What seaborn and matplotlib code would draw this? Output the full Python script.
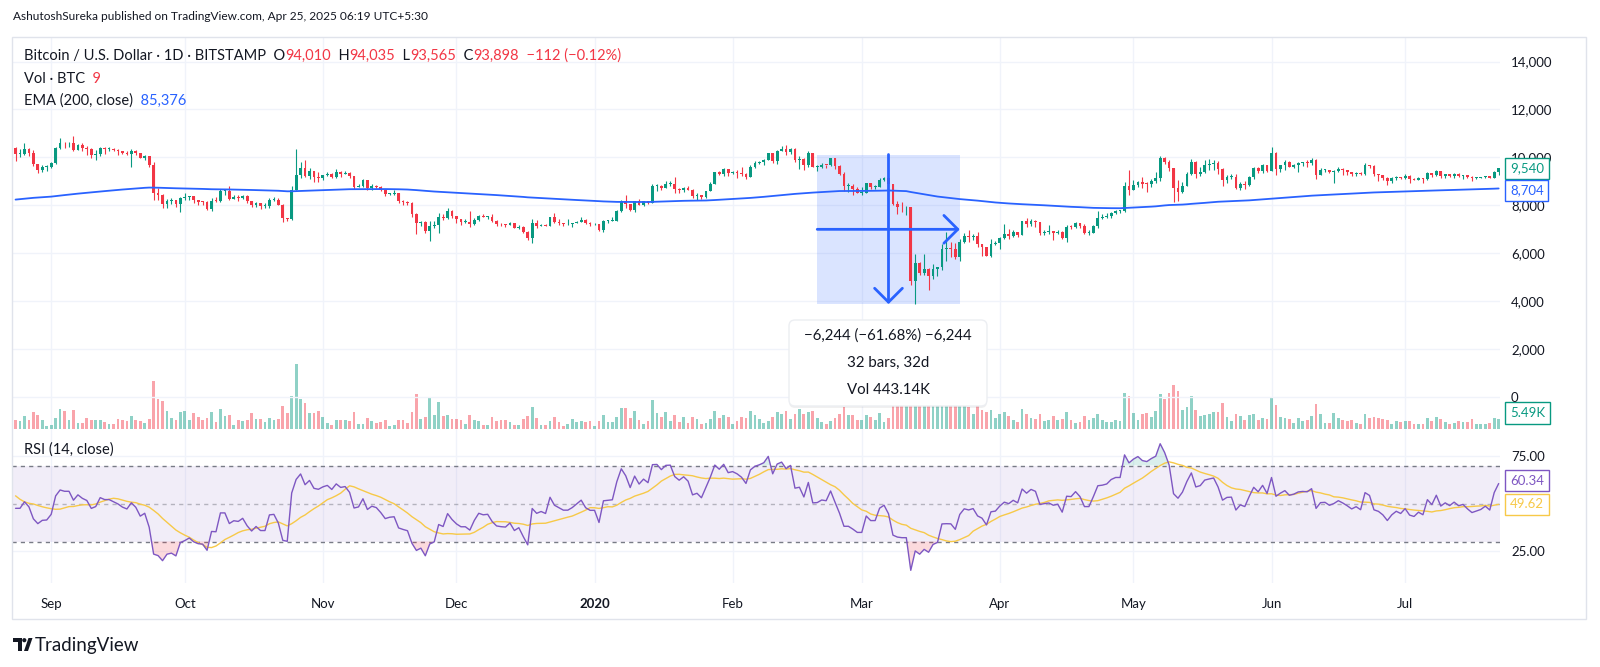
import numpy as np
import pandas as pd
import matplotlib
matplotlib.use("Agg")
import matplotlib.pyplot as plt
import matplotlib.dates as mdates
from matplotlib.patches import Rectangle, FancyBboxPatch, Ellipse, Polygon
from matplotlib.transforms import IdentityTransform
import seaborn as sns

# BTC/USD daily candles, Bitstamp, 24 Aug 2019 -> 22 Jul 2020
start_date = "2019-08-24"
first_open = 10410

close = [
    10140, 10140, 10370, 10190, 9710, 9490, 9590, 9600,
    9760, 10380, 10620, 10580, 10580, 10320, 10500, 10400, 10340, 10110, 10160, 10410, 10360, 10360, 10310,
    10260, 10190, 10150, 10270, 10180, 9990, 10040, 9700, 8530, 8430, 8060, 8190, 8210, 8040, 8300,
    8340, 8390, 8230, 8150, 8130, 7860, 8200, 8190, 8590, 8590, 8270, 8330, 8310, 8370, 8160, 8000,
    8080, 7960, 7960, 8230, 8240, 8030, 7470, 7430, 8660, 9260, 9550, 9220, 9430, 9180, 9150,
    9250, 9310, 9200, 9410, 9320, 9350, 9210, 8780, 8810, 9040, 8730, 8820, 8780, 8640, 8460,
    8490, 8500, 8170, 8120, 8080, 7620, 7280, 7320, 6910, 7130, 7170, 7530, 7460, 7760, 7570,
    7420, 7320, 7320, 7210, 7400, 7550, 7510, 7520, 7340, 7220, 7200, 7190, 7250, 7070, 7110, 6880,
    6620, 7280, 7150, 7190, 7140, 7510, 7320, 7260, 7200, 7200, 7250, 7320, 7390, 7250, 7200,
    7200, 6960, 7340, 7350, 7360, 7760, 8160, 8040, 7820, 8180, 8020, 8180, 8110, 8810, 8820, 8720,
    8900, 8910, 8700, 8630, 8740, 8660, 8390, 8430, 8340, 8600, 8910, 9380, 9300, 9510, 9350,
    9390, 9350, 9290, 9180, 9620, 9760, 9820, 9900, 10170, 9870, 10270, 10360, 10240, 10370, 9900,
    9930, 9700, 10180, 9600, 9610, 9690, 9670, 9970, 9660, 9310, 8790, 8790, 8670, 8530,
    8530, 8920, 8760, 8760, 9070, 9150, 8900, 8040, 7940, 7910, 7910, 4860, 5580, 5170, 5360, 5030,
    5330, 5410, 6190, 6200, 6190, 5830, 6470, 6740, 6680, 6740, 6370, 6250, 5880, 6400, 6430,
    6640, 6800, 6740, 6870, 6780, 7340, 7200, 7360, 7300, 6860, 6890, 6910, 6840, 6870, 6630,
    7110, 7100, 7260, 7130, 6850, 6850, 7130, 7490, 7510, 7550, 7700, 7770, 7770, 8790, 8620,
    8830, 8980, 8900, 8880, 9030, 9150, 9990, 9810, 9540, 8720, 8560, 8810, 9310, 9790, 9310, 9380,
    9670, 9730, 9780, 9510, 9060, 9170, 9180, 8720, 8900, 8840, 9200, 9570, 9430, 9700, 9450,
    10200, 9520, 9670, 9790, 9620, 9670, 9760, 9780, 9770, 9880, 9280, 9470, 9480, 9390, 9440,
    9520, 9460, 9390, 9310, 9360, 9290, 9690, 9630, 9290, 9250, 9160, 9010, 9120, 9190, 9140,
    9230, 9090, 9060, 9130, 9080, 9340, 9250, 9430, 9230, 9290, 9240, 9300, 9240, 9260, 9190,
    9130, 9150, 9170, 9210, 9160, 9390, 9540,
]
high = [
    10450, 10330, 10620, 10380, 10300, 9720, 9690, 9680,
    9810, 10450, 10800, 10650, 10630, 10900, 10540, 10590, 10480, 10380, 10290, 10450, 10440, 10430, 10380,
    10350, 10270, 10250, 10330, 10290, 10170, 10080, 10050, 9790, 8720, 8490, 8260, 8320, 8230, 8330,
    8500, 8400, 8400, 8240, 8200, 8160, 8310, 8330, 8670, 8640, 8800, 8420, 8450, 8420, 8410, 8170,
    8120, 8100, 8100, 8290, 8330, 8310, 8040, 7490, 8800, 10370, 9800, 9900, 9550, 9450, 9400,
    9280, 9380, 9360, 9520, 9450, 9440, 9370, 9220, 8880, 9110, 9060, 8880, 8850, 8800, 8680,
    8520, 8630, 8500, 8210, 8180, 8120, 7700, 7360, 7340, 7350, 7330, 7660, 7640, 7870, 7820,
    7570, 7440, 7420, 7750, 7490, 7580, 7640, 7560, 7640, 7390, 7260, 7230, 7310, 7260, 7190, 7140,
    6940, 7440, 7370, 7220, 7200, 7520, 7690, 7430, 7280, 7430, 7280, 7360, 7520, 7410, 7320,
    7260, 7210, 7400, 7400, 7500, 7800, 8210, 8450, 8050, 8200, 8280, 8200, 8190, 8890, 8900, 8830,
    9010, 9000, 9190, 8730, 8760, 8790, 8670, 8520, 8440, 8610, 8980, 9400, 9420, 9560, 9530,
    9430, 9470, 9600, 9340, 9700, 9860, 9870, 9940, 10180, 10190, 10300, 10470, 10520, 10390, 10390,
    10060, 9960, 10250, 10200, 9680, 9770, 9700, 9990, 9980, 9670, 9380, 8950, 8900, 8780,
    8750, 8950, 8920, 8840, 9160, 9170, 9190, 8900, 8180, 8150, 7970, 7950, 5950, 5650, 5950, 5370,
    5560, 5440, 6400, 6900, 6450, 6420, 6600, 6850, 6970, 6790, 6870, 6300, 6260, 6600, 6520,
    6680, 7200, 7000, 6990, 6880, 7360, 7460, 7420, 7380, 7300, 6950, 7180, 6910, 6990, 6940,
    7190, 7160, 7320, 7270, 7200, 6950, 7160, 7770, 7620, 7700, 7720, 7790, 7800, 8970, 9470,
    9050, 9020, 9190, 8960, 9100, 9400, 10040, 10000, 9910, 9570, 9040, 8980, 9400, 9930, 9830, 9590,
    9880, 9950, 9890, 9830, 9560, 9260, 9320, 9300, 8980, 9010, 9220, 9620, 9600, 9730, 9700,
    10430, 10230, 9690, 9880, 9850, 9730, 9800, 9800, 9880, 9990, 9940, 9560, 9500, 9480, 9480,
    9580, 9550, 9490, 9400, 9390, 9410, 9780, 9700, 9670, 9320, 9280, 9200, 9200, 9230, 9200,
    9300, 9270, 9120, 9190, 9140, 9370, 9360, 9460, 9440, 9310, 9300, 9340, 9340, 9270, 9270,
    9210, 9190, 9200, 9230, 9220, 9430, 9550,
]
low = [
    9870, 10020, 10110, 10060, 9630, 9330, 9380, 9430,
    9570, 9740, 10360, 10410, 10450, 10270, 10310, 10280, 10080, 9970, 9890, 10070, 10160, 10280, 10260,
    10080, 10140, 10120, 9620, 10090, 9960, 9880, 9620, 8210, 8230, 7900, 7880, 8070, 7950, 7710,
    8230, 8230, 8080, 8000, 8020, 7790, 7780, 8120, 8120, 8440, 8230, 8250, 8200, 8260, 8100, 7940,
    7940, 7830, 7880, 7870, 8180, 8010, 7300, 7360, 7400, 8630, 9120, 9190, 9080, 8990, 8970,
    9060, 9230, 9120, 9140, 9190, 9300, 9120, 8700, 8760, 8780, 8650, 8650, 8740, 8590, 8400,
    8450, 8420, 8080, 8030, 8030, 7520, 6800, 7150, 6860, 6520, 7050, 6850, 7400, 7430, 7480,
    7250, 7190, 7260, 7100, 7170, 7330, 7500, 7440, 7310, 7150, 7140, 7080, 7190, 7040, 7020, 6850,
    6560, 6430, 7040, 7120, 7120, 7130, 7270, 7160, 7130, 7160, 7100, 7250, 7290, 7220, 7150,
    7170, 6920, 6870, 7280, 7330, 7350, 7730, 7880, 7770, 7730, 8000, 7970, 8060, 8100, 8600, 8620,
    8710, 8820, 8500, 8530, 8560, 8620, 8300, 8240, 8270, 8300, 8580, 8880, 9250, 9220, 9240,
    9300, 9160, 9230, 9110, 9170, 9540, 9710, 9680, 9880, 9750, 9720, 10250, 10100, 10130, 9820,
    9510, 9470, 9600, 9580, 9420, 9570, 9570, 9650, 9520, 9280, 8600, 8550, 8450, 8520,
    8410, 8500, 8670, 8670, 8760, 9010, 8860, 8020, 7630, 7730, 7590, 4680, 3876, 5080, 5100, 4450,
    4940, 5060, 5280, 5670, 5850, 5780, 5690, 6440, 6480, 6540, 6260, 5870, 5870, 5860, 6330,
    6170, 6590, 6600, 6680, 6680, 6770, 7090, 7150, 7110, 6750, 6780, 6810, 6570, 6790, 6610,
    6480, 7010, 7060, 7050, 6800, 6770, 6830, 7050, 7410, 7450, 7480, 7650, 7670, 7740, 8440,
    8620, 8770, 8720, 8550, 8770, 8930, 9030, 9710, 9450, 8120, 8200, 8530, 8800, 9260, 9130, 9230,
    9350, 9490, 9470, 9300, 8810, 8930, 9080, 8700, 8640, 8700, 8810, 9110, 9330, 9350, 9400,
    9420, 9270, 9380, 9460, 9580, 9540, 9400, 9650, 9580, 9690, 9080, 9250, 9380, 9340, 8920,
    9390, 9260, 9270, 9220, 9220, 9280, 9280, 9570, 9220, 9020, 9050, 8840, 8950, 9050, 9080,
    9090, 8940, 9040, 9050, 8950, 9060, 9200, 9230, 9150, 9120, 9190, 9150, 9200, 9110, 9160,
    9000, 9090, 9120, 9120, 9130, 9150, 9280,
]
volume_k = [
    5.1, 4.2, 7.3, 4.8, 9.2, 7.9, 5.1, 1.8,
    2.4, 6.0, 11.2, 9.7, 4.8, 10.2, 3.3, 3.3, 6.0, 4.8, 4.8, 4.8, 3.8, 2.9, 2.9,
    5.7, 5.1, 4.2, 7.3, 4.8, 4.2, 3.3, 5.7, 26.5, 16.5, 15.6, 9.7, 6.0, 5.1, 9.3,
    9.7, 5.1, 8.8, 6.4, 4.8, 6.0, 9.2, 3.8, 11.2, 7.3, 7.9, 2.4, 4.8, 4.2, 5.1, 8.8,
    5.7, 5.7, 3.8, 6.0, 5.1, 5.5, 12.4, 9.0, 17.9, 35.9, 16.5, 14.3, 8.8, 8.8, 9.7,
    6.6, 3.3, 2.4, 5.1, 5.1, 4.8, 4.2, 9.3, 2.9, 2.9, 6.0, 4.2, 3.3, 3.7, 5.1,
    1.8, 2.4, 5.1, 5.1, 3.3, 9.3, 19.2, 5.7, 6.4, 17.6, 7.7, 14.6, 7.0, 7.7, 5.5,
    5.5, 4.8, 2.9, 7.9, 4.8, 4.2, 2.4, 2.4, 6.6, 4.6, 4.8, 5.1, 3.7, 2.4, 2.4, 5.7,
    7.3, 12.1, 6.0, 2.4, 2.4, 4.2, 6.6, 3.7, 1.8, 3.0, 5.5, 3.7, 4.2, 3.7, 4.2,
    1.8, 4.2, 7.9, 3.7, 3.7, 6.6, 11.7, 11.7, 6.0, 9.9, 5.1, 2.7, 4.4, 15.7, 8.8, 6.6,
    9.2, 4.6, 7.7, 3.8, 6.4, 3.3, 6.6, 5.5, 2.7, 3.3, 5.5, 9.9, 6.0, 7.5, 6.6,
    3.0, 4.6, 6.6, 6.0, 9.7, 7.5, 5.5, 3.3, 4.2, 6.4, 9.1, 8.5, 10.0, 5.7, 8.4,
    11.0, 8.5, 9.4, 10.0, 5.9, 3.7, 3.0, 4.4, 6.2, 8.1, 12.0, 7.7, 7.9, 5.1,
    4.8, 7.5, 6.6, 4.8, 8.8, 3.8, 6.2, 16.5, 14.8, 13.7, 12.6, 50.0, 40.0, 20.0, 22.0, 26.0,
    18.0, 17.0, 19.0, 22.0, 14.5, 14.0, 16.0, 15.5, 12.0, 8.0, 12.5, 10.5, 9.5, 10.5, 6.0,
    8.0, 9.5, 7.0, 5.0, 4.0, 11.0, 8.5, 6.0, 5.5, 8.0, 4.5, 5.0, 7.0, 4.8, 5.5,
    9.5, 5.0, 3.5, 3.8, 7.0, 5.0, 6.0, 8.5, 5.0, 3.8, 3.6, 5.0, 4.5, 20.0, 18.0,
    9.0, 5.0, 8.0, 9.0, 6.5, 10.0, 19.0, 16.5, 20.0, 24.0, 21.0, 10.5, 12.0, 18.0, 10.5, 7.0,
    7.5, 8.0, 9.5, 9.5, 14.0, 6.5, 4.5, 8.5, 7.0, 5.0, 7.5, 8.0, 5.0, 6.0, 5.5,
    17.0, 13.0, 6.5, 6.0, 5.5, 3.5, 6.0, 4.5, 5.0, 7.0, 13.5, 8.0, 3.5, 3.5, 9.0,
    6.0, 5.0, 4.5, 5.0, 3.5, 2.5, 8.0, 6.0, 6.5, 6.0, 5.5, 5.0, 3.0, 4.5, 4.0,
    4.5, 4.5, 3.0, 2.5, 2.8, 6.0, 4.5, 6.5, 5.5, 4.0, 2.5, 3.5, 4.5, 4.0, 4.0,
    5.5, 3.0, 2.5, 2.8, 3.5, 6.0, 5.49,
]
# closes of 1-23 Aug 2019, only used to warm up the RSI
warmup_close = [10400, 10530, 10820, 10980, 11800, 11460, 11970, 11980, 11850, 11290,
                11550, 11390, 10880, 10050, 10300, 10340, 10220, 10330, 10920, 10760,
                10130, 10110, 10410]
ema_seed = 8220

measure_top = 10120
measure_bottom = 3876
measure_from = "2020-02-20"
measure_to = "2020-03-23"

month_starts = ["2019-09-01", "2019-10-01", "2019-11-01", "2019-12-01", "2020-01-01", "2020-02-01",
                "2020-03-01", "2020-04-01", "2020-05-01", "2020-06-01", "2020-07-01"]
month_labels = ["Sep", "Oct", "Nov", "Dec", "2020", "Feb", "Mar", "Apr", "May", "Jun", "Jul"]
price_ticks = [0, 2000, 4000, 6000, 8000, 10000, 12000, 14000]
rsi_ticks = [25, 75]

UP, DOWN = "#089981", "#f23645"
BLUE, PURPLE, YELLOW = "#2962ff", "#7e57c2", "#f7c948"
TEXT, GRID, BORDER = "#131722", "#f0f3fa", "#e0e3eb"
FONT = ["Lato", "DejaVu Sans"]

sns.set_theme(style="white")
plt.rcParams["font.family"] = FONT

# ---- derived series ----
dates = pd.date_range(start_date, periods=len(close), freq="D")
x = mdates.date2num(dates)
c = np.asarray(close, float)
o = np.r_[first_open, c[:-1]]
hi = np.maximum(np.maximum(high, o), c)
lo = np.minimum(np.minimum(low, o), c)
rising = c >= o

ema = pd.Series([ema_seed] + close, dtype=float).ewm(span=200, adjust=False).mean().to_numpy()[1:]

allc = pd.Series(warmup_close + close, dtype=float)
chg = allc.diff()
gain = chg.clip(lower=0).ewm(alpha=1 / 14, adjust=False).mean()
loss = (-chg.clip(upper=0)).ewm(alpha=1 / 14, adjust=False).mean()
rsi_all = 100 - 100 / (1 + gain / loss)
rsi = rsi_all.to_numpy()[len(warmup_close):]
rsi_ma = rsi_all.rolling(14).mean().to_numpy()[len(warmup_close):]

# ---- layout (pixel boxes on a 1600x667 canvas) ----
W, H = 1600, 667
fig = plt.figure(figsize=(16, 6.67), dpi=100, facecolor="white")


def pbox(l, t, r, b):
    return [l / W, 1 - b / H, (r - l) / W, (b - t) / H]


axv = fig.add_axes(pbox(12, 37, 1500, 429))
ax = fig.add_axes(pbox(12, 37, 1500, 429))
axr = fig.add_axes(pbox(12, 429, 1500, 583))
ax.patch.set_visible(False)
for a in (ax, axv, axr):
    for s in a.spines.values():
        s.set_visible(False)
    a.set_xlim(x[0] - 0.8, x[-1] + 0.3)

month_x = mdates.date2num(pd.to_datetime(month_starts))
for a in (axv, axr):
    for m in month_x:
        a.axvline(m, color=GRID, lw=1, zorder=0)

# volume
axv.bar(x, volume_k, width=0.62, color=np.where(rising, UP, DOWN), alpha=0.45, lw=0)
axv.set_ylim(0, 215)
axv.set_xticks([])
axv.set_yticks([])

# price
ax.set_ylim(-1336, 15025)
for p in price_ticks:
    ax.axhline(p, color=GRID, lw=1, zorder=0)
cols = np.where(rising, UP, DOWN)
ax.vlines(x, lo, hi, colors=cols, lw=0.8, zorder=3)
ax.bar(x, np.maximum(np.abs(c - o), 40), bottom=np.minimum(o, c), width=0.62,
       color=cols, lw=0, zorder=4)
sns.lineplot(x=x, y=ema, ax=ax, color=BLUE, linewidth=1.3, zorder=5)

ax.yaxis.tick_right()
ax.set_yticks(price_ticks)
ax.set_yticklabels([f"{p:,}" for p in price_ticks])
ax.tick_params(axis="y", length=0, pad=8, labelsize=9.5, labelcolor=TEXT)
ax.tick_params(axis="x", bottom=False, labelbottom=False)
ax.set_xlabel("")
ax.set_ylabel("")

# measuring tool
m0, m1 = mdates.date2num(pd.to_datetime([measure_from, measure_to]))
ax.add_patch(Rectangle((m0, measure_bottom), m1 - m0, measure_top - measure_bottom,
                       facecolor=BLUE, alpha=0.17, lw=0, zorder=2))
mid_x, mid_y = (m0 + m1) / 2, (measure_top + measure_bottom) / 2
arrow = dict(arrowstyle="->,head_length=0.5,head_width=0.5", color=BLUE, lw=2,
             shrinkA=0, shrinkB=0, mutation_scale=20)
ax.annotate("", xy=(mid_x, measure_bottom), xytext=(mid_x, measure_top), arrowprops=arrow, zorder=7)
ax.annotate("", xy=(m1, mid_y), xytext=(m0, mid_y), arrowprops=arrow, zorder=7)

# RSI pane
axr.set_ylim(8.2, 89.2)
axr.axhspan(30, 70, color=PURPLE, alpha=0.1, lw=0, zorder=0)
for lvl in rsi_ticks:
    axr.axhline(lvl, color=GRID, lw=1, zorder=0)
for lvl in (30, 70):
    axr.axhline(lvl, color="#787b86", lw=1, ls=(0, (3, 3)), zorder=1)
axr.axhline(50, color="#787b86", alpha=0.5, lw=1, ls=(0, (3, 3)), zorder=1)
axr.fill_between(x, rsi, 70, where=rsi > 70, interpolate=True, color=UP, alpha=0.15, lw=0)
axr.fill_between(x, rsi, 30, where=rsi < 30, interpolate=True, color=DOWN, alpha=0.18, lw=0)
sns.lineplot(x=x, y=rsi, ax=axr, color=PURPLE, linewidth=1.0, zorder=4)
sns.lineplot(x=x, y=rsi_ma, ax=axr, color=YELLOW, linewidth=1.0, zorder=3)
axr.yaxis.tick_right()
axr.set_yticks(rsi_ticks)
axr.set_yticklabels([f"{v:.2f}" for v in rsi_ticks])
axr.tick_params(axis="y", length=0, pad=8, labelsize=9.5, labelcolor=TEXT)
axr.set_xticks(month_x)
axr.set_xticklabels(month_labels)
axr.tick_params(axis="x", length=0, pad=11, labelsize=9.5, labelcolor=TEXT)
for lab in axr.get_xticklabels():
    if lab.get_text() == "2020":
        lab.set_fontweight("bold")
axr.set_xlabel("")
axr.set_ylabel("")


# last-value labels on the scales
def scale_tag(a, val_y, text, col, yc="data", dy=0):
    a.annotate(text, xy=(1, val_y), xycoords=("axes fraction", yc), xytext=(10, dy),
               textcoords="offset pixels", va="center", ha="left", color=col, fontsize=9.5,
               annotation_clip=False, zorder=10,
               bbox=dict(boxstyle="square,pad=0.35", fc="white", ec=col, lw=1))


scale_tag(ax, 9540, "9,540", UP)
scale_tag(ax, 8704, "8,704", BLUE, dy=-2)
scale_tag(axv, 0, "5.49K", UP, yc="axes fraction", dy=16)
scale_tag(axr, 60.34, "60.34", PURPLE, dy=3)
scale_tag(axr, 49.62, "49.62", YELLOW)


# legends (chained coloured text)
def chain(x_px, y_px, parts, size=10.5):
    t = fig.text(x_px / W, 1 - y_px / H, parts[0][0], color=parts[0][1], fontsize=size,
                 va="center", ha="left")
    for s, col in parts[1:]:
        t = ax.annotate(s, xy=(1, 0), xycoords=t, va="bottom", ha="left", color=col, fontsize=size)


fig.text(13 / W, 1 - 17 / H, "AshutoshSureka published on TradingView.com, Apr 25, 2025 06:19 UTC+5:30",
         color=TEXT, fontsize=8.6, va="center", ha="left")
chain(24, 56, [("Bitcoin / U.S. Dollar · 1D · BITSTAMP", TEXT), ("  O", TEXT), ("94,010", DOWN),
               ("  H", TEXT), ("94,035", DOWN), ("  L", TEXT), ("93,565", DOWN),
               ("  C", TEXT), ("93,898", DOWN), ("  −112 (−0.12%)", DOWN)])
chain(24, 79, [("Vol · BTC", TEXT), ("  9", DOWN)])
chain(24, 101, [("EMA (200, close)", TEXT), ("  85,376", BLUE)])
chain(24, 450, [("RSI (14, close)", TEXT), ("  67.80", PURPLE), ("  56.94", YELLOW)])

# measurement info card
shadow = FancyBboxPatch((789, H - 408), 198, 86, boxstyle="round,pad=0,rounding_size=6",
                        transform=IdentityTransform(), fc="black", alpha=0.06, lw=0, zorder=5)
card = FancyBboxPatch((789, H - 406), 198, 86, boxstyle="round,pad=0,rounding_size=6",
                      transform=IdentityTransform(), fc="white", ec="#eceef2", lw=1, zorder=6)
fig.add_artist(shadow)
fig.add_artist(card)
for yy, s in zip((336, 363, 390), ("−6,244 (−61.68%) −6,244", "32 bars, 32d", "Vol 443.14K")):
    fig.text(888 / W, 1 - yy / H, s, color=TEXT, fontsize=10.8, ha="center", va="center", zorder=7)

# outer frame
fig.add_artist(Rectangle((12 / W, 1 - 619 / H), 1574 / W, 582 / H, transform=fig.transFigure,
                         fill=False, ec=BORDER, lw=1))


# TradingView logo
def fig_poly(pts, **kw):
    fig.add_artist(Polygon([(px / W, 1 - py / H) for px, py in pts], closed=True,
                           transform=fig.transFigure, **kw))


fig_poly([(13, 638), (22, 638), (22, 651), (18, 651), (18, 642), (13, 642)], fc=TEXT, lw=0)
fig.add_artist(Ellipse((24.3 / W, 1 - 640.2 / H), 4.2 / W, 4.2 / H, transform=fig.transFigure,
                       fc=TEXT, lw=0))
fig_poly([(28.5, 638), (32.5, 638), (28, 651), (24, 651)], fc=TEXT, lw=0)
fig.text(35 / W, 1 - 645 / H, "TradingView", color=TEXT, fontsize=13.5, va="center", ha="left")

fig.savefig("out.png", dpi=100, facecolor="white")
